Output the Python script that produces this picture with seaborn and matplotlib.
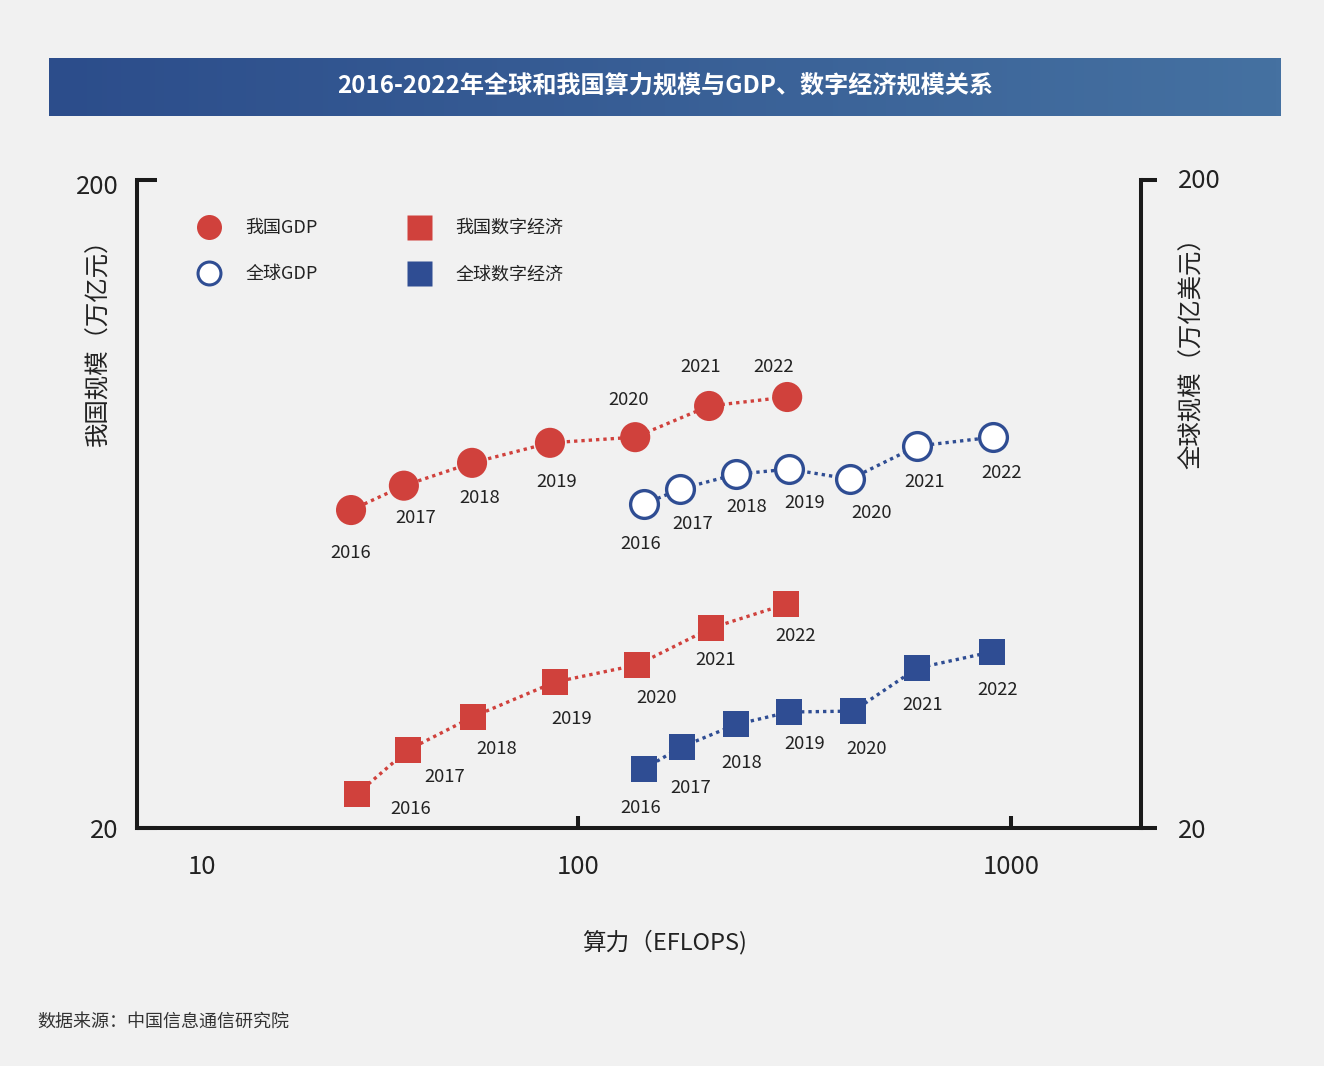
import numpy as np
import pandas as pd
import matplotlib
matplotlib.use("Agg")
import matplotlib.pyplot as plt
import matplotlib.transforms as mtransforms
import seaborn as sns
from matplotlib.lines import Line2D
from matplotlib.ticker import NullLocator, FixedLocator
from matplotlib.colors import LinearSegmentedColormap

# ---------------- data ----------------
years = [2016, 2017, 2018, 2019, 2020, 2021, 2022]
cn_gdp_x = [29.9, 39.6, 56.9, 86.1, 135.5, 200.7, 304]
cn_gdp_y = [61.9, 67.5, 73.2, 78.6, 80.2, 89.6, 92.5]
gl_gdp_x = [142, 172, 232, 307, 425, 607, 908]
gl_gdp_y = [63.2, 66.7, 70.3, 71.6, 69.1, 77.7, 80.2]
cn_dig_x = [30.9, 40.5, 57.2, 88.5, 136.9, 202.8, 302]
cn_dig_y = [22.6, 26.4, 29.7, 33.6, 35.7, 40.7, 44.3]
gl_dig_x = [142, 174, 232, 307, 432, 607, 904]
gl_dig_y = [24.7, 26.7, 28.9, 30.2, 30.3, 35.3, 37.4]
x_ticks = [13.54, 100, 1000]
x_tick_labels = ["10", "100", "1000"]
y_ticks = [20, 200]
y_tick_labels = ["20", "200"]
title = "2016-2022年全球和我国算力规模与GDP、数字经济规模关系"
legend_labels = ["我国GDP", "全球GDP", "我国数字经济", "全球数字经济"]

# label offsets in pixels (dx right, dy down)
off_cn_gdp = [(0, 43), (12, 32), (8, 35), (7, 39), (-7, -37), (-8, -39), (-14, -30)]
off_gl_gdp = [(-3, 40), (13, 35), (10, 33), (16, 34), (21, 34), (7, 36), (9, 36)]
off_cn_dig = [(53, 15), (37, 27), (24, 32), (17, 37), (19, 33), (5, 32), (10, 32)]
off_gl_dig = [(-3, 39), (8, 41), (5, 39), (16, 32), (13, 38), (5, 37), (5, 38)]

RED = "#d0413c"
BLUE = "#2f4d93"
BG = "#f1f1f1"
TXT = "#222222"

sns.set_theme(style="white")
plt.rcParams["font.family"] = ["Noto Sans CJK SC", "DejaVu Sans"]
plt.rcParams["axes.unicode_minus"] = False

fig = plt.figure(figsize=(13.24, 10.66), dpi=100, facecolor=BG)

# ---------------- title bar ----------------
ax_t = fig.add_axes([49 / 1324, 1 - 116 / 1066, 1232 / 1324, 58 / 1066])
cmap = LinearSegmentedColormap.from_list("bar", ["#2c4d8b", "#4571a1"])
grad = np.linspace(0, 1, 256).reshape(1, -1)
ax_t.imshow(grad, aspect="auto", cmap=cmap, extent=[0, 1, 0, 1])
ax_t.set_xlim(0, 1); ax_t.set_ylim(0, 1)
ax_t.axis("off")
ax_t.text(0.5, 0.5, title, color="white", fontsize=17.4, fontweight="bold",
          ha="center", va="center")

# ---------------- main axes ----------------
L, R, T, B = 137, 1141, 180, 828
ax = fig.add_axes([L / 1324, 1 - B / 1066, (R - L) / 1324, (B - T) / 1066])
ax.set_facecolor(BG)
ax.set_xscale("log"); ax.set_yscale("log")
ax.set_xlim(9.58, 1995); ax.set_ylim(20, 200)
ax2 = ax.twinx()
ax2.set_yscale("log"); ax2.set_ylim(20, 200)

def series(x, y):
    return pd.DataFrame({"x": x, "y": y, "year": years})

df_cn_gdp = series(cn_gdp_x, cn_gdp_y)
df_gl_gdp = series(gl_gdp_x, gl_gdp_y)
df_cn_dig = series(cn_dig_x, cn_dig_y)
df_gl_dig = series(gl_dig_x, gl_dig_y)

dot = (0, (1, 1.2))
for df, a, c in [(df_cn_gdp, ax, RED), (df_cn_dig, ax, RED),
                 (df_gl_gdp, ax2, BLUE), (df_gl_dig, ax2, BLUE)]:
    sns.lineplot(data=df, x="x", y="y", ax=a, color=c, linewidth=2.4,
                 linestyle=dot, sort=False, zorder=2, legend=False)

sns.scatterplot(data=df_cn_gdp, x="x", y="y", ax=ax, marker="o", s=470,
                color=RED, edgecolor="none", zorder=3, legend=False)
sns.scatterplot(data=df_cn_dig, x="x", y="y", ax=ax, marker="s", s=350,
                color=RED, edgecolor="none", zorder=3, legend=False)
sns.scatterplot(data=df_gl_gdp, x="x", y="y", ax=ax2, marker="o", s=400,
                color="white", edgecolor=BLUE, linewidth=2.4, zorder=3, legend=False)
sns.scatterplot(data=df_gl_dig, x="x", y="y", ax=ax2, marker="s", s=350,
                color=BLUE, edgecolor="none", zorder=3, legend=False)

def label(a, df, offs):
    for (xx, yy, yr), (dx, dy) in zip(df[["x", "y", "year"]].values, offs):
        a.annotate(str(int(yr)), (xx, yy), xytext=(dx * 0.72, -dy * 0.72),
                   textcoords="offset points", ha="center", va="center",
                   fontsize=13.3, color=TXT, zorder=4)

label(ax, df_cn_gdp, off_cn_gdp)
label(ax, df_cn_dig, off_cn_dig)
label(ax2, df_gl_gdp, off_gl_gdp)
label(ax2, df_gl_dig, off_gl_dig)

for a in (ax, ax2):
    a.set_xlabel(""); a.set_ylabel("")

# ticks
ax.xaxis.set_major_locator(FixedLocator(x_ticks))
ax.xaxis.set_minor_locator(NullLocator())
ax.set_xticklabels(x_tick_labels)
ax.yaxis.set_major_locator(FixedLocator(y_ticks))
ax.yaxis.set_minor_locator(NullLocator())
ax.set_yticklabels(y_tick_labels)
ax2.yaxis.set_major_locator(FixedLocator(y_ticks))
ax2.yaxis.set_minor_locator(NullLocator())
ax2.set_yticklabels(y_tick_labels)

ax.tick_params(axis="x", which="major", direction="in", length=8.6, width=2.9,
               color="#1a1a1a", labelsize=18.5, labelcolor=TXT, pad=19, bottom=True, top=False)
ax.tick_params(axis="y", which="major", direction="in", length=14.4, width=2.9,
               color="#1a1a1a", labelsize=18.5, labelcolor=TXT, pad=13, left=True, right=False)
ax2.tick_params(axis="y", which="major", direction="out", length=11.5, width=2.9,
                color="#1a1a1a", labelsize=18.5, labelcolor=TXT, pad=15, right=True, left=False)
ax.xaxis.get_major_ticks()[0].tick1line.set_visible(False)
# fine vertical nudges of y tick labels
for t in ax.get_yticklabels():
    if t.get_text() == "200":
        t.set_transform(t.get_transform() + mtransforms.ScaledTranslation(0, -4 / 100, fig.dpi_scale_trans))
for t in ax2.get_yticklabels():
    if t.get_text() == "200":
        t.set_transform(t.get_transform() + mtransforms.ScaledTranslation(0, 2 / 100, fig.dpi_scale_trans))

for s in ["left", "bottom", "right"]:
    ax.spines[s].set_visible(True)
    ax.spines[s].set_linewidth(2.9)
    ax.spines[s].set_color("#1a1a1a")
ax.spines["top"].set_visible(False)
for s in ax2.spines.values():
    s.set_visible(False)

# legend
handles = [
    Line2D([], [], linestyle="none", marker="o", markersize=18, markerfacecolor=RED,
           markeredgecolor="none"),
    Line2D([], [], linestyle="none", marker="o", markersize=16.5, markerfacecolor="white",
           markeredgecolor=BLUE, markeredgewidth=2.2),
    Line2D([], [], linestyle="none", marker="s", markersize=18, markerfacecolor=RED,
           markeredgecolor="none"),
    Line2D([], [], linestyle="none", marker="s", markersize=18, markerfacecolor=BLUE,
           markeredgecolor="none"),
]
ax2.legend(handles, legend_labels, ncol=2, loc="upper left",
           bbox_to_anchor=(194.5 / 1324, 1 - 219 / 1066), bbox_transform=fig.transFigure,
           frameon=False, fontsize=13, handlelength=1.6, handletextpad=1.2,
           columnspacing=4.85, labelspacing=1.57, borderpad=0, borderaxespad=0,
           labelcolor=TXT)

# axis titles
fig.text(98 / 1324, 1 - 336 / 1066, "我国规模（万亿元）", rotation=90, ha="center",
         va="center", fontsize=17.6, color=TXT)
fig.text(1192 / 1324, 1 - 347 / 1066, "全球规模（万亿美元）", rotation=90, ha="center",
         va="center", fontsize=17.6, color=TXT)
fig.text(665 / 1324, 1 - 942 / 1066, "算力（EFLOPS)", ha="center", va="center",
         fontsize=17, color=TXT)
fig.text(37 / 1324, 1 - 1022 / 1066, "数据来源：中国信息通信研究院", ha="left", va="center",
         fontsize=13, color="#333333", fontweight="medium")

fig.savefig("out.png", dpi=100, facecolor=BG)
